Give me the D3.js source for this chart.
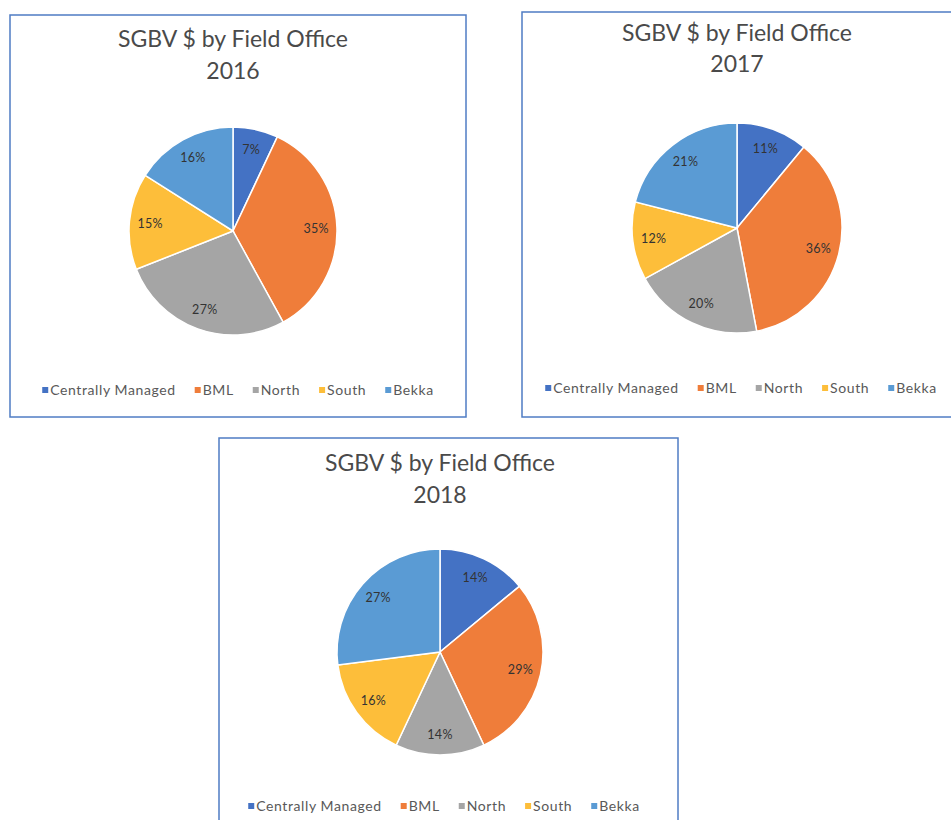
<!DOCTYPE html>
<html>
<head>
<meta charset="utf-8">
<script src="https://cdn.jsdelivr.net/npm/d3@7"></script>
<style>
  body { margin: 0; background: #fff; }
  svg { display: block; }
</style>
</head>
<body>
<script>
  "use strict";

  // Data
  const categories = ["Centrally Managed", "BML", "North", "South", "Bekka"];
  const years = ["2016", "2017", "2018"];
  const values2016 = [7, 35, 27, 15, 16];
  const values2017 = [11, 36, 20, 12, 21];
  const values2018 = [14, 29, 14, 16, 27];
  const titleText = "SGBV $ by Field Office";

  const colors = ["#4472C4", "#EF7D3A", "#A5A5A5", "#FDBE3A", "#5A9BD4"];

  // Layout of the three chart frames (as pasted in the document)
  const panels = [
    { values: values2016, year: years[0], fx: 10, fy: 15, fw: 456, fh: 402,
      cx: 233, cy: 231, r: 104, t1: 39, t2: 71, ly: 390, lx: 238 },
    { values: values2017, year: years[1], fx: 522, fy: 12, fw: 458, fh: 405,
      cx: 737, cy: 228, r: 105, t1: 33, t2: 64, ly: 388, lx: 741 },
    { values: values2018, year: years[2], fx: 219, fy: 438, fw: 459, fh: 402,
      cx: 440, cy: 652, r: 103, t1: 463, t2: 495, ly: 806, lx: 444 }
  ];

  const width = 951, height = 820;
  const font = "Lato, 'Open Sans', sans-serif";

  const svg = d3.select("body").append("svg")
      .attr("width", width)
      .attr("height", height)
      .attr("font-family", font);

  const pie = d3.pie().sort(null).value(d => d);
  const color = d3.scaleOrdinal().domain(categories).range(colors);

  panels.forEach(p => {
    const g = svg.append("g");

    g.append("rect")
        .attr("x", p.fx)
        .attr("y", p.fy)
        .attr("width", p.fw)
        .attr("height", p.fh)
        .attr("fill", "#fff")
        .attr("stroke", "#4f7cc4")
        .attr("stroke-width", 1.5);

    // title
    const title = g.append("text")
        .attr("text-anchor", "middle")
        .attr("fill", "#4a4a4a")
        .attr("font-size", 23);
    title.append("tspan")
        .attr("x", p.cx)
        .attr("y", p.t1)
        .attr("dy", "0.35em")
        .text(titleText);
    title.append("tspan")
        .attr("x", p.cx)
        .attr("y", p.t2)
        .attr("dy", "0.35em")
        .text(p.year);

    // pie
    const arcs = pie(p.values);
    const arc = d3.arc().innerRadius(0).outerRadius(p.r);
    const labelArc = d3.arc().innerRadius(p.r * 0.8).outerRadius(p.r * 0.8);

    const pg = g.append("g").attr("transform", `translate(${p.cx},${p.cy})`);

    pg.selectAll("path")
      .data(arcs)
      .join("path")
        .attr("d", arc)
        .attr("fill", (d, i) => color(categories[i]))
        .attr("stroke", "#fff")
        .attr("stroke-width", 1.5);

    pg.selectAll("text")
      .data(arcs)
      .join("text")
        .attr("transform", d => `translate(${labelArc.centroid(d)})`)
        .attr("text-anchor", "middle")
        .attr("dy", "0.35em")
        .attr("font-size", 12.5)
        .attr("letter-spacing", 0.3)
        .attr("fill", "#333")
        .text(d => d.data + "%");

    // legend, centred under the pie
    const lg = g.append("g")
        .attr("font-size", 14)
        .attr("letter-spacing", 0.6)
        .attr("fill", "#595959");
    const items = lg.selectAll("g")
      .data(categories)
      .join("g");
    items.append("rect")
        .attr("width", 6)
        .attr("height", 6)
        .attr("y", -3)
        .attr("fill", d => color(d));
    items.append("text")
        .attr("x", 8)
        .attr("dy", "0.35em")
        .text(d => d);

    const gap = 19;
    let x = 0;
    const offs = [];
    items.each(function() {
      offs.push(x);
      x += 8 + d3.select(this).select("text").node().getComputedTextLength() + gap;
    });
    const total = x - gap;
    items.attr("transform", (d, i) => `translate(${p.lx - total / 2 + offs[i]},${p.ly})`);
  });
</script>
</body>
</html>
